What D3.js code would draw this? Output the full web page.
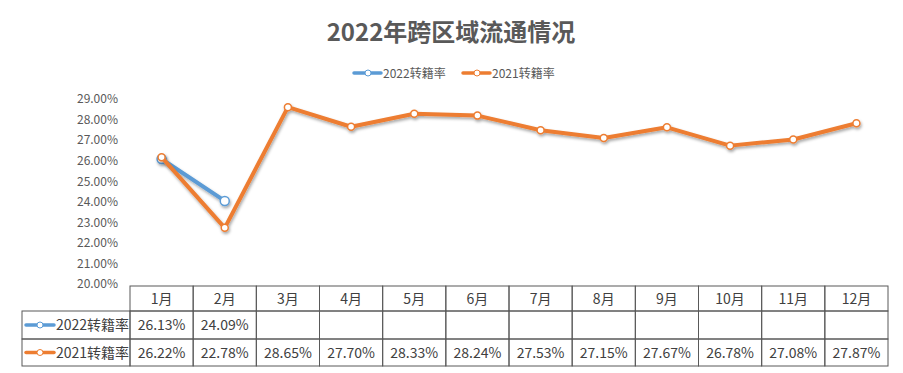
<!DOCTYPE html>
<html>
<head>
<meta charset="utf-8">
<script src="https://cdn.jsdelivr.net/npm/d3@7"></script>
<style>
  body { margin: 0; background: #fff; }
  svg { font-family: "Noto Sans CJK SC", "Noto Sans", sans-serif; }
</style>
</head>
<body>
<script>
// chart data
var months = ["1月", "2月", "3月", "4月", "5月", "6月", "7月", "8月", "9月", "10月", "11月", "12月"];
var rate2022 = [26.13, 24.09];
var rate2021 = [26.22, 22.78, 28.65, 27.70, 28.33, 28.24, 27.53, 27.15, 27.67, 26.78, 27.08, 27.87];
var yTicks = [20, 21, 22, 23, 24, 25, 26, 27, 28, 29];

var series = [
    { name: "2022转籍率", values: rate2022, color: "#5B9BD5", r: 4.5 },
    { name: "2021转籍率", values: rate2021, color: "#ED7D31", r: 3.5 }
];

var svgWidth = 903, svgHeight = 373;

var svg = d3.select("body").append("svg")
    .attr("width", svgWidth)
    .attr("height", svgHeight);

// shadow under the lines
var defs = svg.append("defs");
var f = defs.append("filter").attr("id", "shadow")
    .attr("x", "-10%").attr("y", "-10%").attr("width", "120%").attr("height", "130%");
f.append("feDropShadow")
    .attr("dx", 1).attr("dy", 2).attr("stdDeviation", 1.5)
    .attr("flood-color", "#000").attr("flood-opacity", 0.35);

// Title
svg.append("text")
    .attr("x", 451).attr("y", 41)
    .attr("text-anchor", "middle")
    .attr("font-size", "24px")
    .attr("font-weight", "bold")
    .attr("fill", "#595959")
    .text("2022年跨区域流通情况");

// Legend
var legend = svg.append("g").attr("transform", "translate(353, 73)");
series.forEach(function (s, i) {
    var g = legend.append("g").attr("transform", `translate(${i * 109}, 0)`);
    g.append("line").attr("x1", 1).attr("x2", 28).attr("y1", 0).attr("y2", 0)
        .attr("stroke", s.color).attr("stroke-width", 3.5).attr("stroke-linecap", "round");
    g.append("circle").attr("cx", 15).attr("cy", 0).attr("r", 3)
        .attr("fill", "#fff").attr("stroke", s.color).attr("stroke-width", 1);
    g.append("text").attr("x", 30).attr("y", 4.5)
        .attr("font-size", "12px").attr("fill", "#595959")
        .text(s.name);
});

// Scales
var tableLeft = 130, tableRight = 888;
var x = d3.scaleBand().domain(months).range([tableLeft, tableRight]);
var y = d3.scaleLinear().domain([20, 29]).range([285, 100]);

// Y axis
var yAxis = d3.axisLeft(y)
    .tickValues(yTicks)
    .tickFormat(d => d.toFixed(2) + "%")
    .tickSize(0)
    .tickPadding(0);

var yg = svg.append("g")
    .attr("transform", "translate(118, -1)")
    .call(yAxis);
yg.select(".domain").remove();
yg.selectAll("text")
    .attr("font-size", "12px")
    .attr("fill", "#595959")
    .attr("font-family", "\"Noto Sans CJK SC\", sans-serif");

// Lines
var line = d3.line()
    .x((d, i) => x(months[i]) + x.bandwidth() / 2)
    .y(d => y(d));

// 2022 first, 2021 drawn on top
series.forEach(function (s) {
    var g = svg.append("g").attr("filter", "url(#shadow)");
    g.append("path")
        .datum(s.values)
        .attr("d", line)
        .attr("fill", "none")
        .attr("stroke", s.color)
        .attr("stroke-width", 4)
        .attr("stroke-linejoin", "round")
        .attr("stroke-linecap", "round");
    g.selectAll("circle")
        .data(s.values)
        .enter()
        .append("circle")
        .attr("cx", (d, i) => x(months[i]) + x.bandwidth() / 2)
        .attr("cy", d => y(d))
        .attr("r", s.r)
        .attr("fill", "#fff")
        .attr("stroke", s.color)
        .attr("stroke-width", 1.5);
});

// Data table
var rowTops = [286, 311, 339, 366];
var legendLeft = 22;
var table = svg.append("g");
var border = "#595959";

// header row (months)
months.forEach(function (m) {
    table.append("rect")
        .attr("x", x(m)).attr("y", rowTops[0])
        .attr("width", x.bandwidth()).attr("height", rowTops[1] - rowTops[0])
        .attr("fill", "none").attr("stroke", border).attr("stroke-width", 1);
    table.append("text")
        .attr("x", x(m) + x.bandwidth() / 2)
        .attr("y", (rowTops[0] + rowTops[1]) / 2 + 5)
        .attr("text-anchor", "middle")
        .attr("font-size", "14px").attr("fill", "#404040")
        .text(m);
});

series.forEach(function (s, r) {
    var top = rowTops[r + 1], bottom = rowTops[r + 2];
    var mid = (top + bottom) / 2;
    // series label cell
    table.append("rect")
        .attr("x", legendLeft).attr("y", top)
        .attr("width", tableLeft - legendLeft).attr("height", bottom - top)
        .attr("fill", "none").attr("stroke", border).attr("stroke-width", 1);
    table.append("line")
        .attr("x1", legendLeft + 4).attr("x2", legendLeft + 32)
        .attr("y1", mid).attr("y2", mid)
        .attr("stroke", s.color).attr("stroke-width", 3.5).attr("stroke-linecap", "round");
    table.append("circle")
        .attr("cx", legendLeft + 18).attr("cy", mid).attr("r", 3)
        .attr("fill", "#fff").attr("stroke", s.color).attr("stroke-width", 1);
    table.append("text")
        .attr("x", legendLeft + 34).attr("y", mid + 5)
        .attr("font-size", "14px").attr("fill", "#404040")
        .text(s.name);

    months.forEach(function (m, i) {
        table.append("rect")
            .attr("x", x(m)).attr("y", top)
            .attr("width", x.bandwidth()).attr("height", bottom - top)
            .attr("fill", "none").attr("stroke", border).attr("stroke-width", 1);
        if (s.values[i] !== undefined) {
            table.append("text")
                .attr("x", x(m) + x.bandwidth() / 2)
                .attr("y", mid + 5)
                .attr("text-anchor", "middle")
                .attr("font-size", "14px").attr("fill", "#404040")
                .text(s.values[i].toFixed(2) + "%");
        }
    });
});
</script>
</body>
</html>
